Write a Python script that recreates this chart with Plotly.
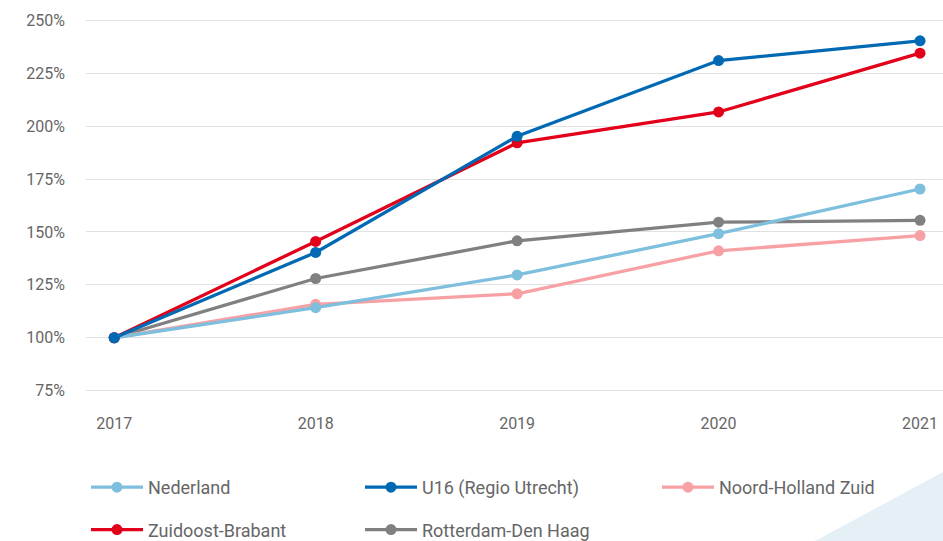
import plotly.graph_objects as go

years = [2017, 2018, 2019, 2020, 2021]
nederland = [100, 114.2, 129.7, 149.2, 170.3]
u16 = [100, 140.3, 195.2, 231.0, 240.3]
nh_zuid = [100, 115.8, 120.8, 141.1, 148.3]
zo_brabant = [100, 145.5, 192.1, 206.7, 234.5]
rdh = [100, 128.0, 145.8, 154.6, 155.5]
y_ticks = [75, 100, 125, 150, 175, 200, 225, 250]
y_tick_labels = ["75%", "100%", "125%", "150%", "175%", "200%", "225%", "250%"]

series = [
    # name, values, color, legend, rank
    ("Rotterdam-Den Haag", rdh, "#808080", "legend2", 2),
    ("Noord-Holland Zuid", nh_zuid, "#f8a1a5", "legend3", 1),
    ("Nederland", nederland, "#7dbfdc", "legend", 1),
    ("Zuidoost-Brabant", zo_brabant, "#e2001a", "legend", 2),
    ("U16 (Regio Utrecht)", u16, "#0069b4", "legend2", 1),
]

fig = go.Figure()
for name, vals, col, lg, rank in series:
    fig.add_trace(go.Scatter(
        x=years, y=vals, name=name, mode="lines+markers",
        line=dict(color=col, width=3.3),
        marker=dict(color=col, size=11),
        legend=lg, legendrank=rank, legendgroup=name,
        hoverinfo="skip",
    ))

# plot area in pixels: x 86..943, y 14..397
L, R, T, B = 86, 943, 14, 397
def px(x):
    return (x - L) / (R - L)
def py(y):
    return (B - y) / (B - T)

font_fam = "Roboto, Arial, sans-serif"
legend_common = dict(
    orientation="v", xref="paper", yref="paper",
    xanchor="left", yanchor="top",
    font=dict(family=font_fam, size=18, color="#666666"),
    itemwidth=52, tracegroupgap=16, bgcolor="rgba(0,0,0,0)",
    traceorder="grouped",
)

fig.update_layout(
    width=943, height=541,
    margin=dict(l=L, r=943 - R, t=T, b=541 - B, autoexpand=False),
    paper_bgcolor="white", plot_bgcolor="white",
    font=dict(family=font_fam, color="#666666"),
    showlegend=True,
    xaxis=dict(
        range=[2016.86, 2021.114], tickvals=years, ticktext=[str(y) for y in years],
        showgrid=False, zeroline=False, showline=False,
        tickfont=dict(size=16, color="#666666"), ticklabelstandoff=15,
    ),
    yaxis=dict(
        range=[72, 253], tickvals=y_ticks, ticktext=y_tick_labels,
        showgrid=True, gridcolor="#e1e1e1", gridwidth=1.3, zeroline=False, showline=False,
        tickfont=dict(size=16, color="#666666"), ticklabelstandoff=20,
    ),
    legend=dict(x=px(86), y=py(469), **legend_common),
    legend2=dict(x=px(360), y=py(469), **legend_common),
    legend3=dict(x=px(657), y=py(469), **legend_common),
    shapes=[dict(
        type="path", xref="paper", yref="paper", layer="below",
        path=f"M {px(815)},{py(541)} L {px(943)},{py(472)} L {px(943)},{py(541)} Z",
        fillcolor="#e4f0f6", line=dict(width=0),
    )],
)

fig.write_html("out.html", config={"displayModeBar": False},
               post_script="document.body.style.margin='0';")
